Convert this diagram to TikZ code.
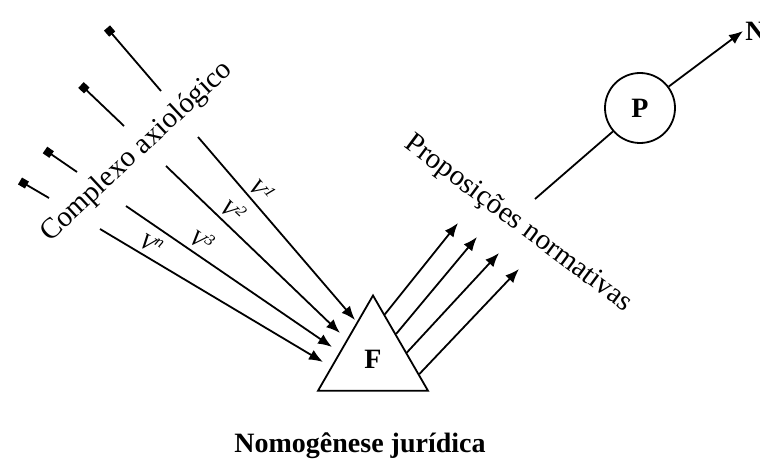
\documentclass[tikz,border=0pt]{standalone}
\usepackage{fontspec}
\setmainfont{Liberation Serif}
\usetikzlibrary{positioning, arrows.meta, shapes.geometric, calc}
\tikzset{
  seta/.style={-{Latex[length=7pt,width=5.5pt]}, line width=0.9pt},
  pino/.style={{Square[length=4pt,width=4pt]}-, line width=0.9pt},
  rotulo/.style={font=\fontsize{14.5}{16}\selectfont},
  negrito/.style={font=\fontsize{14}{16}\selectfont\bfseries},
  valor/.style={font=\fontsize{11.5}{12}\selectfont\itshape, sloped, above=1pt, inner sep=1pt},
}

\begin{document}
\begin{tikzpicture}[x=0.5pt, y=-0.5pt]
  \useasboundingbox (0,0) rectangle (760,465);

  % valores soltos
  \draw[pino] (107,28) -- (161,91);
  \draw[pino] (81,85) -- (124,126);
  \draw[pino] (45,150) -- (77,172);
  \draw[pino] (20,181) -- (49,198);

  \node[rotulo, rotate=43] (complexo) at (137,152) {Complexo axiológico};

  \node[draw, regular polygon, regular polygon sides=3, minimum size=63.5pt,
        inner sep=0pt, line width=0.9pt, negrito] (F) at (373,359) {F};

  % vetores de valor
  \coordinate (v1) at (198,137);
  \coordinate (v2) at (166,166);
  \coordinate (v3) at (126,206);
  \coordinate (vn) at (100,229);
  \coordinate (v1f) at (355,320);
  \coordinate (v2f) at (340,333);
  \coordinate (v3f) at (332,347);
  \coordinate (vnf) at (323,362);
  \draw[seta] (v1) -- node[valor, pos=0.34] {V\textsuperscript{1}} (v1f);
  \draw[seta] (v2) -- node[valor, pos=0.33] {V\textsuperscript{2}} (v2f);
  \draw[seta] (v3) -- node[valor, pos=0.33] {V\textsuperscript{3}} (v3f);
  \draw[seta] (vn) -- node[valor, pos=0.2] {V\textsuperscript{n}} (vnf);

  % proposicoes
  \coordinate (s1) at (458,223);
  \coordinate (s2) at (477,237);
  \coordinate (s3) at (499,253);
  \coordinate (s4) at (519,269);
  \draw[seta] ($(F.corner 1)!0.21!(F.corner 3)$) -- (s1);
  \draw[seta] ($(F.corner 1)!0.41!(F.corner 3)$) -- (s2);
  \draw[seta] ($(F.corner 1)!0.60!(F.corner 3)$) -- (s3);
  \draw[seta] ($(F.corner 1)!0.82!(F.corner 3)$) -- (s4);

  \node[rotulo, rotate=-36.7] (proposicoes) at (518,224) {Proposições normativas};

  \node[draw, circle, minimum size=35pt, line width=0.9pt, negrito] (P) at (640,108) {P};
  \coordinate (p0) at (535,199);
  \draw[line width=0.9pt] (p0) -- (P);
  \node[negrito, anchor=west, inner sep=1pt] (N) at (743,31) {N};
  \draw[seta] (P) -- (N.west);

  \node[negrito] (titulo) at (360,446) {Nomogênese jurídica};
\end{tikzpicture}
\end{document}
